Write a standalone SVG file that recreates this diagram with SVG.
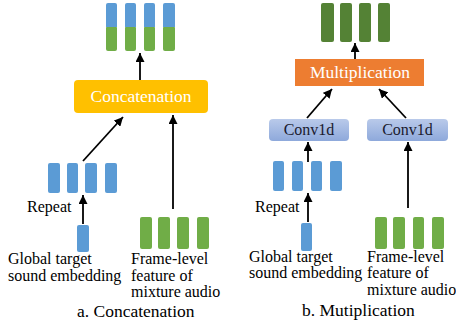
<svg xmlns="http://www.w3.org/2000/svg" width="456" height="327" viewBox="0 0 456 327">
<defs>
<marker id="ah" viewBox="0 0 10 10" markerWidth="9" markerHeight="9" markerUnits="userSpaceOnUse" refX="10" refY="5" orient="auto">
<path d="M0,0 L10,5 L0,10 z" fill="#000"/>
</marker>
<linearGradient id="cg" x1="0" y1="0" x2="0" y2="1">
<stop offset="0" stop-color="#B9CAEA"/>
<stop offset="1" stop-color="#8EA9DB"/>
</linearGradient>
<style>
.b{fill:#5B9BD5}
.g{fill:#70AD47}
.dg{fill:#548235}
.t{font-family:"Liberation Serif","Times New Roman",serif;font-size:16px;fill:#000}
.cap{font-family:"Liberation Serif","Times New Roman",serif;font-size:17.5px;fill:#000}
.bt{font-family:"Liberation Serif","Times New Roman",serif;font-size:17.5px;fill:#fff;text-anchor:middle}
.ct{font-family:"Liberation Serif","Times New Roman",serif;font-size:16px;fill:#1a1a2e;text-anchor:middle}
.ln{stroke:#000;stroke-width:1.8;fill:none;marker-end:url(#ah)}
</style>
</defs>

<!-- Left panel -->
<g id="concat-output">
<rect class="b" x="106" y="3" width="11" height="24" rx="2"/>
<rect class="b" x="125" y="3" width="11" height="24" rx="2"/>
<rect class="b" x="144" y="3" width="11" height="24" rx="2"/>
<rect class="b" x="163" y="3" width="12" height="24" rx="2"/>
<rect class="g" x="106" y="26" width="11" height="25" rx="2"/>
<rect class="g" x="125" y="26" width="11" height="25" rx="2"/>
<rect class="g" x="144" y="26" width="11" height="25" rx="2"/>
<rect class="g" x="163" y="26" width="12" height="25" rx="2"/>
<rect x="106" y="25" width="11" height="2" class="b"/>
<rect x="125" y="25" width="11" height="2" class="b"/>
<rect x="144" y="25" width="11" height="2" class="b"/>
<rect x="163" y="25" width="12" height="2" class="b"/>
</g>
<g id="concat-node">
<rect x="74" y="80" width="134" height="33" rx="4" fill="#FFC000"/>
<text class="bt" x="141" y="102">Concatenation</text>
</g>
<g id="left-repeated">
<rect class="b" x="48" y="163" width="12" height="30" rx="2"/>
<rect class="b" x="67" y="163" width="11" height="30" rx="2"/>
<rect class="b" x="85" y="163" width="12" height="30" rx="2"/>
<rect class="b" x="105" y="163" width="12" height="30" rx="2"/>
<text class="t" x="27" y="212">Repeat</text>
</g>
<g id="left-global">
<rect class="b" x="77" y="225" width="12" height="27" rx="2"/>
<text class="t" x="8" y="264">Global target</text>
<text class="t" x="8" y="281">sound embedding</text>
</g>
<g id="left-frame">
<rect class="g" x="140" y="217" width="12" height="32" rx="2"/>
<rect class="g" x="158" y="217" width="12" height="32" rx="2"/>
<rect class="g" x="177" y="217" width="12" height="32" rx="2"/>
<rect class="g" x="197" y="217" width="12" height="32" rx="2"/>
<text class="t" x="131" y="264">Frame-level</text>
<text class="t" x="131" y="281">feature of</text>
<text class="t" x="131" y="297">mixture audio</text>
</g>
<text class="cap" x="77" y="317">a. Concatenation</text>

<!-- Right panel -->
<g id="mult-output">
<rect class="dg" x="321" y="3" width="13" height="39" rx="2"/>
<rect class="dg" x="340" y="3" width="12" height="39" rx="2"/>
<rect class="dg" x="359" y="3" width="12" height="39" rx="2"/>
<rect class="dg" x="378" y="3" width="12" height="39" rx="2"/>
</g>
<g id="mult-node">
<rect x="295" y="59" width="129" height="27" fill="#ED7D31"/>
<text class="bt" x="360" y="78">Multiplication</text>
</g>
<g id="conv-left">
<rect x="269" y="119" width="80" height="22" rx="4" fill="url(#cg)"/>
<text class="ct" x="309" y="135">Conv1d</text>
</g>
<g id="conv-right">
<rect x="367" y="119" width="81" height="22" rx="4" fill="url(#cg)"/>
<text class="ct" x="407.5" y="135">Conv1d</text>
</g>
<g id="right-repeated">
<rect class="b" x="273" y="161" width="11" height="30" rx="2"/>
<rect class="b" x="292" y="161" width="11" height="30" rx="2"/>
<rect class="b" x="311" y="161" width="11" height="30" rx="2"/>
<rect class="b" x="330" y="161" width="12" height="30" rx="2"/>
<text class="t" x="255" y="212">Repeat</text>
</g>
<g id="right-global">
<rect class="b" x="301" y="223" width="11" height="28" rx="2"/>
<text class="t" x="249" y="262">Global target</text>
<text class="t" x="249" y="278">sound embedding</text>
</g>
<g id="right-frame">
<rect class="g" x="375" y="217" width="12" height="32" rx="2"/>
<rect class="g" x="393" y="217" width="12" height="32" rx="2"/>
<rect class="g" x="413" y="217" width="11" height="32" rx="2"/>
<rect class="g" x="432" y="217" width="12" height="32" rx="2"/>
<text class="t" x="367" y="262">Frame-level</text>
<text class="t" x="367" y="278">feature of</text>
<text class="t" x="367" y="295">mixture audio</text>
</g>
<text class="cap" x="302" y="316">b. Mutiplication</text>

<g id="connectors">
<line class="ln" x1="140" y1="80" x2="140" y2="53"/>
<line class="ln" x1="83" y1="161" x2="123" y2="117"/>
<line class="ln" x1="173" y1="209" x2="173" y2="115"/>
<line class="ln" x1="83" y1="224" x2="83" y2="195"/>
<line class="ln" x1="355" y1="59" x2="355" y2="43"/>
<line class="ln" x1="307" y1="118" x2="332" y2="89"/>
<line class="ln" x1="406" y1="118" x2="379" y2="89"/>
<line class="ln" x1="308" y1="162" x2="308" y2="142"/>
<line class="ln" x1="308" y1="222" x2="308" y2="193"/>
<line class="ln" x1="408" y1="208" x2="408" y2="142"/>
</g>
</svg>
